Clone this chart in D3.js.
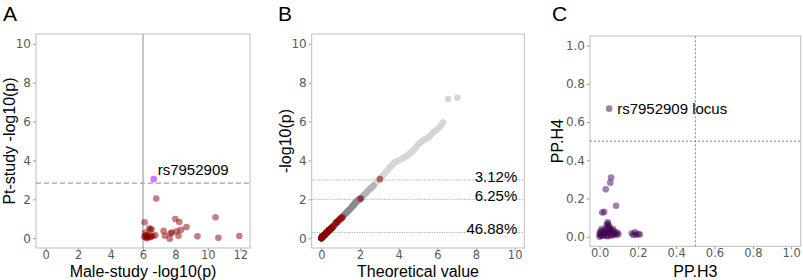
<!DOCTYPE html>
<html>
<head>
<meta charset="utf-8">
<script src="https://cdn.jsdelivr.net/npm/d3@7/dist/d3.min.js"></script>
<style>
    body { margin: 0; background: #fff; }
    .tick text { font-family: "DejaVu Sans", sans-serif; font-size: 12px; fill: #5a5a5a; }
    .x-axis .tick text { font-size: 11.5px; }
    .tick line { stroke: #999; }
    .title { font-family: "Liberation Sans", Arial, sans-serif; font-size: 16px; fill: #000; }
    .letter { font-family: "Liberation Sans", Arial, sans-serif; font-size: 21px; fill: #000; }
    .note { font-family: "Liberation Sans", Arial, sans-serif; font-size: 15px; fill: #000; }
</style>
</head>
<body>
<div id="chart"></div>
<script>

// Panel A: male-study vs Pt-study -log10(p)
var aPoints = [
    [6.82,2.04],[6.10,0.82],[7.99,0.99],[8.24,0.84],[10.47,1.08],[8.68,0.58],[7.27,0.38],
    [8.34,0.43],[8.07,0.36],[7.78,0.29],[7.70,0.26],[7.35,0.13],[7.65,-0.02],[8.19,0.13],
    [9.36,0.10],[10.65,0.03],[11.94,0.12],[6.39,0.51],[6.53,0.46],[6.45,0.43],[6.13,0.29],
    [6.19,0.05],[6.33,0.12],[6.60,0.12],[6.76,0.15],[6.25,0.17],[6.45,0.05],[6.08,0.08],
    [6.22,0.00],[6.30,0.04],[6.15,0.14],[6.50,0.10]
];
var aHighlight = [[6.66,3.04]];
var aHighlightLabel = "rs7952909";
var aMaleCutoff = 6;
var aPtCutoff = 2.83;
var aXTicks = [0,2,4,6,8,10,12];
var aYTicks = [0,2,4,6,8,10];

// Panel B: QQ plot
var bCurve = [
    [0,0],[0.5,0.5],[1,1.02],[1.5,1.52],[2,2.02],[2.5,2.52],[3,3.03],[3.3,3.35],[3.6,3.7],
    [3.8,3.9],[4.1,4.05],[4.5,4.3],[4.8,4.55],[5.0,4.8],[5.3,5.05],[5.5,5.15],[5.8,5.45],
    [6.1,5.7],[6.3,5.95]
];
var bOutliers = [[6.56,7.16],[7.03,7.22]];
var bRed = [
    [3.03,3.04],[2.03,2.04],[1.08,1.08],[0.98,0.99],[0.82,0.84],[0.76,0.80],[0.60,0.58],
    [0.52,0.51],[0.47,0.46],[0.42,0.43],[0.40,0.43],[0.36,0.38],[0.33,0.36],[0.28,0.29],
    [0.25,0.29],[0.22,0.26],[0.15,0.17],[0.13,0.15],[0.11,0.14],[0.09,0.12],[0.07,0.12],
    [0.05,0.10],[0.04,0.08],[0.03,0.05],[0.02,0.05],[0.01,0.03],[0.00,0.00]
];
// darker bands where the grey points pile up
var bShades = [
    {upTo: 2.7, color: "#b4b4b4"},
    {upTo: 2.0, color: "#8a8a8a"},
    {upTo: 1.05, color: "#a63a3a"},
    {upTo: 0.55, color: "#9a1010"}
];
var bLevels = [3.0, 2.0, 0.3];
var bLevelLabels = ["3.12%", "6.25%", "46.88%"];
var bXTicks = [0,2,4,6,8,10];
var bYTicks = [0,2,4,6,8,10];

// Panel C: colocalisation PP.H3 vs PP.H4
var cPoints = [
    [0.060,0.31],[0.056,0.283],[0.032,0.248],[0.086,0.162],[0.024,0.13],[0.014,0.127],
    [0.042,0.075],[0.037,0.062],[0.045,0.068],[0.002,0.026],[0.019,0.018],[0.045,0.021],
    [0.063,0.026],[0.080,0.018],[0.098,0.013],[0.028,0.035],[0.054,0.039],[0.011,0.009],
    [0.037,0.005],[0.072,0.009],[0.000,0.013],[0.000,0.000],[0.008,0.020],[0.015,0.030],
    [0.025,0.010],[0.030,0.022],[0.040,0.030],[0.050,0.012],[0.058,0.032],[0.066,0.015],
    [0.075,0.028],[0.088,0.010],[0.052,0.048],[0.035,0.045],[0.020,0.004],[0.006,0.006],
    [0.044,0.002],[0.061,0.005],[0.070,0.040],[0.092,0.022],[0.010,0.040],[0.048,0.055],
    [0.168,0.018],[0.185,0.023],[0.202,0.014],[0.176,0.009],[0.190,0.010],[0.210,0.012]
];
var cLocus = [[0.05,0.67]];
var cLocusLabel = "rs7952909 locus";
var cXTicks = [0,0.2,0.4,0.6,0.8,1.0];
var cYTicks = [0,0.2,0.4,0.6,0.8,1.0];

var svg = d3.select("#chart").append("svg")
    .attr("width", 803)
    .attr("height", 280);

/*
 *  Draws the box, axes and titles of one panel, returns scales and group
 */
function makePanel(opts) {
    var vis = {};
    vis.x = d3.scaleLinear().domain(opts.xDomain).range([opts.left, opts.right]);
    vis.y = d3.scaleLinear().domain(opts.yDomain).range([opts.bottom, opts.top]);
    vis.g = svg.append("g");

    vis.g.append("g")
        .attr("class", "x-axis axis")
        .attr("transform", "translate(0," + opts.bottom + ")")
        .call(d3.axisBottom(vis.x).tickValues(opts.xTicks).tickSize(3).tickPadding(0).tickFormat(opts.fmt))
        .call(g => g.select(".domain").remove());
    vis.g.append("g")
        .attr("class", "y-axis axis")
        .attr("transform", "translate(" + opts.left + ",0)")
        .call(d3.axisLeft(vis.y).tickValues(opts.yTicks).tickSize(3).tickPadding(2).tickFormat(opts.fmt))
        .call(g => g.select(".domain").remove());

    vis.g.append("rect")
        .attr("x", opts.left)
        .attr("y", opts.top)
        .attr("width", opts.right - opts.left)
        .attr("height", opts.bottom - opts.top)
        .attr("fill", "none")
        .attr("stroke", "#bdbdbd");

    vis.g.append("text")
        .attr("class", "title")
        .attr("text-anchor", "middle")
        .attr("x", (opts.left + opts.right) / 2)
        .attr("y", 276.5)
        .text(opts.xTitle);
    vis.g.append("text")
        .attr("class", "title")
        .attr("text-anchor", "middle")
        .attr("transform", "translate(" + opts.yTitleX + "," + (opts.top + opts.bottom) / 2 + ") rotate(-90)")
        .text(opts.yTitle);
    vis.g.append("text")
        .attr("class", "letter")
        .attr("x", opts.letterX)
        .attr("y", 21)
        .text(opts.letter);
    return vis;
}

// ---- Panel A
var A = makePanel({
    left: 36, right: 250, top: 34, bottom: 248,
    xDomain: [-0.6, 12.6], yDomain: [-0.5, 10.5],
    xTicks: aXTicks, yTicks: aYTicks, fmt: d3.format("d"),
    xTitle: "Male-study -log10(p)", yTitle: "Pt-study -log10(p)",
    yTitleX: 14.5, letter: "A", letterX: 3
});
A.g.append("line")
    .attr("x1", A.x(aMaleCutoff)).attr("x2", A.x(aMaleCutoff))
    .attr("y1", A.y.range()[0]).attr("y2", A.y.range()[1])
    .attr("stroke", "#8c8c8c").attr("stroke-width", 1);
A.g.append("line")
    .attr("x1", A.x.range()[0]).attr("x2", A.x.range()[1])
    .attr("y1", A.y(aPtCutoff)).attr("y2", A.y(aPtCutoff))
    .attr("stroke", "#a0a0a0").attr("stroke-width", 1.2).attr("stroke-dasharray", "5,3");
A.g.selectAll(".pt")
    .data(aPoints)
    .enter().append("circle")
    .attr("class", "pt")
    .attr("cx", d => A.x(d[0]))
    .attr("cy", d => A.y(d[1]))
    .attr("r", 3.3)
    .attr("fill", "#8b0000")
    .attr("fill-opacity", 0.5);
A.g.selectAll(".hl")
    .data(aHighlight)
    .enter().append("circle")
    .attr("class", "hl")
    .attr("cx", d => A.x(d[0]))
    .attr("cy", d => A.y(d[1]))
    .attr("r", 3.3)
    .attr("fill", "#c77cff");
A.g.append("text")
    .attr("class", "note")
    .attr("x", A.x(aHighlight[0][0]) + 4)
    .attr("y", A.y(aHighlight[0][1]) - 4)
    .text(aHighlightLabel);

// ---- Panel B
var B = makePanel({
    left: 311.7, right: 524.3, top: 34, bottom: 248,
    xDomain: [-0.5, 10.5], yDomain: [-0.5, 10.5],
    xTicks: bXTicks, yTicks: bYTicks, fmt: d3.format("d"),
    xTitle: "Theoretical value", yTitle: "-log10(p)",
    yTitleX: 291, letter: "B", letterX: 278
});
B.g.selectAll(".level")
    .data(bLevels)
    .enter().append("line")
    .attr("class", "level")
    .attr("x1", B.x.range()[0]).attr("x2", B.x.range()[1])
    .attr("y1", d => B.y(d)).attr("y2", d => B.y(d))
    .attr("stroke", "#9a9a9a").attr("stroke-width", 1).attr("stroke-dasharray", "1,1.5");
B.g.selectAll(".levelLabel")
    .data(bLevels)
    .enter().append("text")
    .attr("class", "note")
    .attr("text-anchor", "end")
    .attr("x", B.x.range()[1] - 7)
    .attr("y", d => B.y(d) + 2)
    .text((d, i) => bLevelLabels[i]);

var bLine = d3.line().x(d => B.x(d[0])).y(d => B.y(d[1])).curve(d3.curveMonotoneX);
B.g.append("path")
    .datum(bCurve)
    .attr("d", bLine)
    .attr("fill", "none")
    .attr("stroke", "#d6d6d6")
    .attr("stroke-width", 6.5)
    .attr("stroke-linecap", "round")
    .attr("stroke-linejoin", "round");
bShades.forEach(s => {
    B.g.append("path")
        .datum(bCurve.filter(d => d[0] <= s.upTo).concat([[s.upTo, s.upTo]]))
        .attr("d", bLine)
        .attr("fill", "none")
        .attr("stroke", s.color)
        .attr("stroke-width", 6.5)
        .attr("stroke-linecap", "round");
});
B.g.selectAll(".out")
    .data(bOutliers)
    .enter().append("circle")
    .attr("class", "out")
    .attr("cx", d => B.x(d[0]))
    .attr("cy", d => B.y(d[1]))
    .attr("r", 3.3)
    .attr("fill", "#d6d6d6");
B.g.selectAll(".red")
    .data(bRed)
    .enter().append("circle")
    .attr("class", "red")
    .attr("cx", d => B.x(d[0]))
    .attr("cy", d => B.y(d[1]))
    .attr("r", 3.3)
    .attr("fill", "#8b0000")
    .attr("fill-opacity", 0.55);

// ---- Panel C
var C = makePanel({
    left: 590, right: 800.7, top: 36, bottom: 246.3,
    xDomain: [-0.05, 1.05], yDomain: [-0.05, 1.05],
    xTicks: cXTicks, yTicks: cYTicks, fmt: d3.format(".1f"),
    xTitle: "PP.H3", yTitle: "PP.H4",
    yTitleX: 563, letter: "C", letterX: 552
});
C.g.append("line")
    .attr("x1", C.x(0.5)).attr("x2", C.x(0.5))
    .attr("y1", C.y.range()[0]).attr("y2", C.y.range()[1])
    .attr("stroke", "#808080").attr("stroke-width", 1).attr("stroke-dasharray", "2,2");
C.g.append("line")
    .attr("x1", C.x.range()[0]).attr("x2", C.x.range()[1])
    .attr("y1", C.y(0.5)).attr("y2", C.y(0.5))
    .attr("stroke", "#808080").attr("stroke-width", 1).attr("stroke-dasharray", "2,2");
C.g.selectAll(".cp")
    .data(cPoints.concat(cLocus))
    .enter().append("circle")
    .attr("class", "cp")
    .attr("cx", d => C.x(d[0]))
    .attr("cy", d => C.y(d[1]))
    .attr("r", 3.3)
    .attr("fill", "#440154")
    .attr("fill-opacity", 0.5);
C.g.append("text")
    .attr("class", "note")
    .attr("x", C.x(cLocus[0][0]) + 8)
    .attr("y", C.y(cLocus[0][1]) + 5)
    .text(cLocusLabel);

</script>
</body>
</html>
